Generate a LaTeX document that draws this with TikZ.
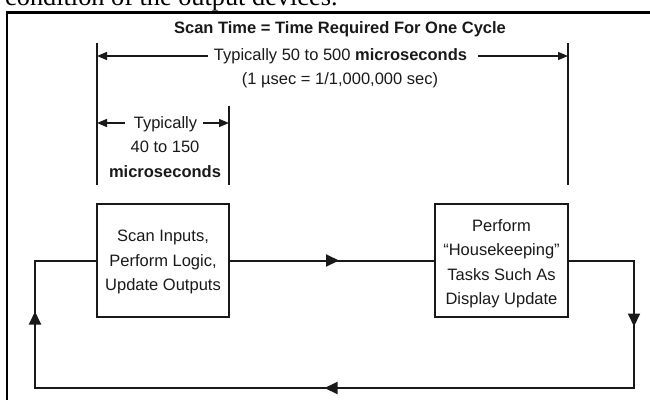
\documentclass[tikz,border=0pt]{standalone}
\usepackage{fontspec}
\setmainfont{Liberation Sans}
\newfontfamily\pageserif{Liberation Serif}
\usetikzlibrary{arrows.meta,decorations.markings}
\begin{document}
\begin{tikzpicture}[x=1pt,y=-1pt,
  txt/.style={font=\fontsize{16.5}{24.5}\selectfont, inner sep=0pt, text=black!90},
  boxtext/.style={txt, align=center},
  procbox/.style={draw=black!90, line width=2pt, minimum width=132pt, minimum height=113pt, inner sep=0pt},
  dimline/.style={draw=black!90, line width=1.3pt},
  dimarrow/.style={dimline, -{Triangle[length=10pt,width=8pt]}},
  flow/.style={draw=black!90, line width=2pt},
  frameline/.style={draw=black, line width=2.5pt}
]
\useasboundingbox (0,0) rectangle (650,399);
\clip (0,0) rectangle (650,399);

% text of the page above the figure (cut off)
\node[anchor=base west, inner sep=0pt, font=\pageserif\fontsize{26.3}{30}\selectfont] (pagetext) at (5,5.5) {condition of the output devices.};

% frame
\coordinate (fbl) at (7,420);
\coordinate (ftl) at (7,12.5);
\coordinate (ftr) at (680,12.5);
\draw[frameline] (fbl) -- (ftl) -- (ftr);

% title and labels
\node[txt, anchor=base, font=\fontsize{16.5}{24.5}\selectfont\bfseries] (title) at (340,33) {Scan Time = Time Required For One Cycle};
\node[txt, anchor=base] (longlbl) at (340.5,60) {Typically 50 to 500 \textbf{microseconds}};
\node[txt, anchor=base] (usec) at (340,84.5) {(1 µsec = 1/1,000,000 sec)};
\node[txt, anchor=base] (shortA) at (165.5,128) {Typically};
\node[txt, anchor=base] (shortB) at (165,152.5) {40 to 150};
\node[txt, anchor=base, font=\fontsize{16.5}{24.5}\selectfont\bfseries] (shortC) at (165,177) {microseconds};

% dimension lines
\coordinate (dLt) at (97,43);   \coordinate (dLb) at (97,185);
\coordinate (dRt) at (568,43);  \coordinate (dRb) at (568,185);
\coordinate (dMt) at (229,106); \coordinate (dMb) at (229,185);
\draw[dimline] (dLt) -- (dLb);
\draw[dimline] (dRt) -- (dRb);
\draw[dimline] (dMt) -- (dMb);

\coordinate (lgL) at (208,56);  \coordinate (lgLe) at (97,56);
\coordinate (lgR) at (478,56);  \coordinate (lgRe) at (568,56);
\draw[dimarrow] (lgL) -- (lgLe);
\draw[dimarrow] (lgR) -- (lgRe);

\coordinate (shL) at (125,123); \coordinate (shLe) at (97,123);
\coordinate (shR) at (203,123); \coordinate (shRe) at (229,123);
\draw[dimarrow] (shL) -- (shLe);
\draw[dimarrow] (shR) -- (shRe);

% process boxes
\node[procbox] (scan) at (163,260.5) {};
\node[boxtext] (scantext) at (163,262) {Scan Inputs,\\Perform Logic,\\Update Outputs};
\node[procbox, minimum width=133pt] (house) at (501.5,260.5) {};
\node[boxtext] (housetext) at (501.5,263.5) {Perform\\“Housekeeping”\\Tasks Such As\\Display Update};

% flow between boxes
\draw[flow, postaction={decorate, decoration={markings, mark=at position 109pt with {\arrow{Triangle[length=13pt,width=12pt]}}}}] (scan.east) -- (house.west);

% return loop
\coordinate (rtop) at (634,260.5);
\coordinate (rbot) at (634,388);
\coordinate (lbot) at (35,388);
\coordinate (ltop) at (35,260.5);
\draw[flow, postaction={decorate, decoration={markings,
    mark=at position 131pt with {\arrow{Triangle[length=13pt,width=12pt]}},
    mark=at position 502pt with {\arrow{Triangle[length=13pt,width=12pt]}},
    mark=at position 868pt with {\arrow{Triangle[length=13pt,width=12pt]}}}}]
  (house.east) -- (rtop) -- (rbot) -- (lbot) -- (ltop) -- (scan.west);
\end{tikzpicture}
\end{document}
